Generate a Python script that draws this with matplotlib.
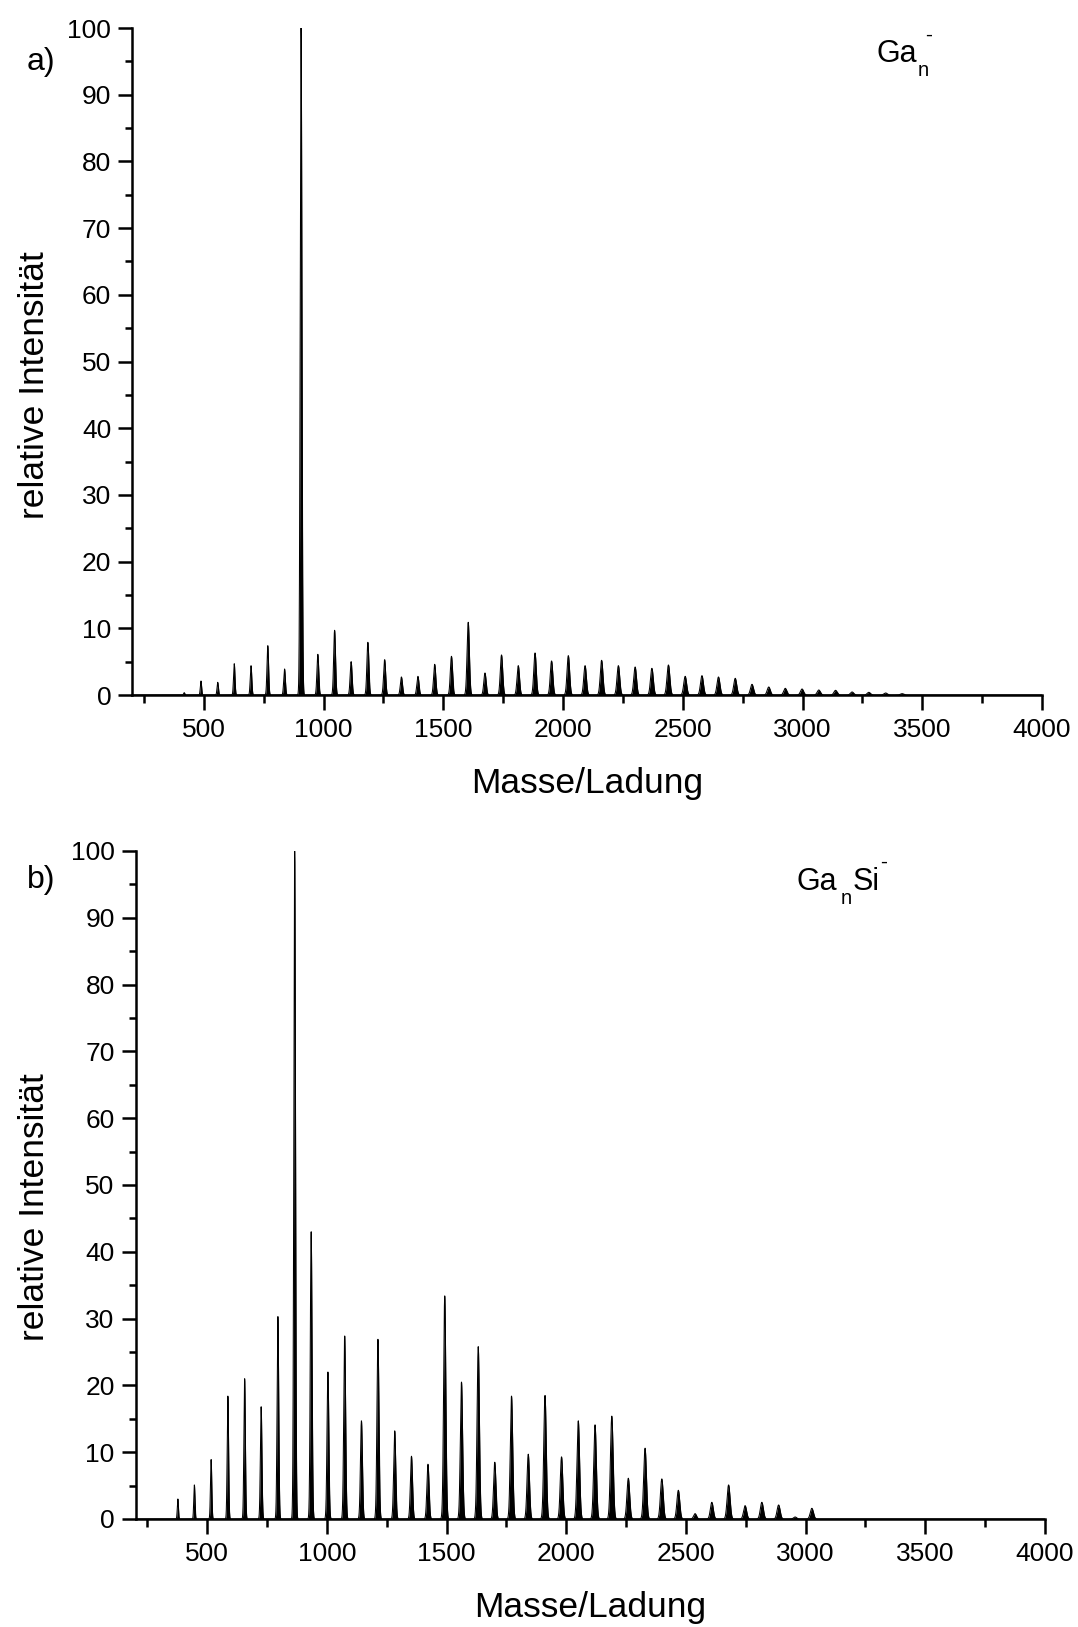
import numpy as np
import matplotlib
matplotlib.use("Agg")
import matplotlib.pyplot as plt
from matplotlib.ticker import MultipleLocator

plt.rcParams['font.family'] = ['Liberation Sans', 'DejaVu Sans']

# ---- data ----
# a) Ga_n^- cluster peaks: mass/charge and relative intensity
ga_mass = [418, 488, 558, 627, 697, 767, 837, 906, 976, 1046, 1115, 1185, 1255,
           1325, 1394, 1464, 1534, 1604, 1674, 1743, 1813, 1883, 1952, 2022,
           2092, 2161, 2231, 2301, 2371, 2440, 2510, 2580, 2649, 2719, 2789,
           2859, 2928, 2998, 3068, 3138, 3207, 3277, 3347, 3416]
ga_int = [0.35, 2.1, 1.9, 4.7, 4.4, 7.4, 3.9, 100, 6.1, 9.7, 5.0, 7.9, 5.3,
          2.7, 2.8, 4.6, 5.8, 10.9, 3.3, 6.0, 4.4, 6.3, 5.1, 5.9,
          4.4, 5.2, 4.4, 4.2, 4.0, 4.5, 2.8, 2.9, 2.7, 2.5, 1.6,
          1.2, 1.0, 0.9, 0.75, 0.7, 0.45, 0.4, 0.3, 0.2]

# b) Ga_nSi^- cluster peaks
gasi_mass = [377, 446, 516, 586, 656, 725, 795, 865, 934, 1004, 1074, 1144,
             1213, 1283, 1353, 1422, 1492, 1562, 1632, 1701, 1771, 1841, 1911,
             1980, 2050, 2120, 2190, 2259, 2329, 2399, 2468, 2538, 2608, 2678,
             2747, 2817, 2887, 2956, 3026]
gasi_int = [3.0, 5.1, 8.9, 18.4, 21.0, 16.8, 30.3, 100, 43.0, 22.0, 27.4, 14.7,
            26.9, 13.2, 9.4, 8.2, 33.4, 20.5, 25.8, 8.5, 18.4, 9.7, 18.5,
            9.3, 14.7, 14.1, 15.4, 6.1, 10.6, 6.0, 4.3, 0.8, 2.5, 5.1,
            2.0, 2.5, 2.1, 0.3, 1.6]

xticks = [500, 1000, 1500, 2000, 2500, 3000, 3500, 4000]
yticks = [0, 10, 20, 30, 40, 50, 60, 70, 80, 90, 100]

W, H = 1078, 1627
fig = plt.figure(figsize=(W / 100, H / 100), dpi=100)
fig.patch.set_facecolor('white')


def px(x):
    return x / W


def py(y):
    return 1 - y / H


def spectrum(masses, heights, grid):
    y = np.zeros_like(grid)
    for m, h in zip(masses, heights):
        s = 0.12 * np.sqrt(m)
        y += h * np.exp(-0.5 * ((grid - m) / s) ** 2)
    return y


grid = np.linspace(200, 4000, 76001)

axes_boxes = [(132, 28, 1042, 695), (135.5, 851, 1045, 1519)]
datasets = [(ga_mass, ga_int), (gasi_mass, gasi_int)]
axs = []
for (l, t, r, b), (ms, hs) in zip(axes_boxes, datasets):
    ax = fig.add_axes([px(l), py(b), (r - l) / W, (b - t) / H])
    y = spectrum(ms, hs, grid)
    ax.fill_between(grid, 0, y, color='black', lw=0)
    ax.plot(grid, y, color='black', lw=0.75)
    ax.set_xlim(200, 4000)
    ax.set_ylim(0, 100)
    ax.set_xticks(xticks)
    ax.set_yticks(yticks)
    ax.xaxis.set_minor_locator(MultipleLocator(250))
    ax.yaxis.set_minor_locator(MultipleLocator(5))
    for s in ['top', 'right']:
        ax.spines[s].set_visible(False)
    for s in ['left', 'bottom']:
        ax.spines[s].set_linewidth(1.8)
    ax.tick_params(axis='both', which='major', direction='out', width=1.8,
                   labelsize=19, color='black')
    ax.tick_params(axis='x', which='major', length=10.5, pad=6)
    ax.tick_params(axis='y', which='major', length=10, pad=5)
    ax.tick_params(axis='x', which='minor', direction='out', length=5.5, width=1.8)
    ax.tick_params(axis='y', which='minor', direction='out', length=5, width=1.8)
    ax.set_xlabel('Masse/Ladung', fontsize=25.5)
    ax.set_ylabel('relative Intensität', fontsize=25.5)
    ax.xaxis.set_label_coords(0.5, -0.108)
    axs.append(ax)

axs[0].yaxis.set_label_coords(-0.089, 0.465)
axs[1].yaxis.set_label_coords(-0.093, 0.467)

# panel letters
fig.text(px(41), py(62), 'a)', fontsize=23, ha='center', va='center')
fig.text(px(41), py(880), 'b)', fontsize=23, ha='center', va='center')

# species labels
fig.text(px(877), py(62), 'Ga', fontsize=22, ha='left', va='baseline')
fig.text(px(918), py(76), 'n', fontsize=14.5, ha='left', va='baseline')
fig.text(px(925), py(35), '-', fontsize=15, ha='left', va='center')

fig.text(px(797), py(890), 'Ga', fontsize=22, ha='left', va='baseline')
fig.text(px(841), py(904), 'n', fontsize=14.5, ha='left', va='baseline')
fig.text(px(853), py(890), 'Si', fontsize=22, ha='left', va='baseline')
fig.text(px(880), py(862), '-', fontsize=15, ha='left', va='center')

fig.savefig('out.png', dpi=100, facecolor='white')
